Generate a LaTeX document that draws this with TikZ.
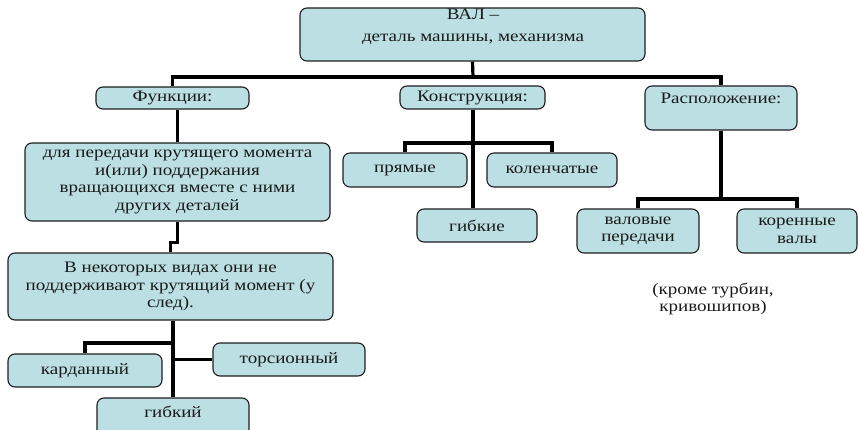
\documentclass[tikz,border=0pt]{standalone}
\usepackage{fontspec}
\setmainfont{Liberation Serif}[FakeStretch=1.19]
\definecolor{boxfill}{HTML}{BBDFE2}
\definecolor{boxline}{HTML}{1E1E1E}
\definecolor{txt}{HTML}{1A1A1A}
\tikzset{
  txtstyle/.style={text=txt, font=\fontsize{16}{17.5}\selectfont},
  box/.style={draw=boxline, line width=1.1pt, fill=boxfill, rounded corners=7pt,
    inner sep=0pt, align=center, txtstyle},
  conn/.style={draw=black, line width=3.2pt},
}
\newcommand{\bx}[6]{% name, x1, y1, x2, y2, text
  \node[box, minimum width=#4pt-#2pt, minimum height=#5pt-#3pt] (#1) at ({(#2+#4)/2},{(#3+#5)/2}) {#6};}
\begin{document}
\begin{tikzpicture}[x=1pt,y=-1pt]
\useasboundingbox (0,0) rectangle (858,430);
\coordinate (bus) at (473,77);
\coordinate (kbus) at (473,143);
\coordinate (rbus) at (721,199);
\coordinate (lj) at (173,343);
% boxes
\bx{val}{300}{8}{645}{61}{}
\bx{fun}{96}{87}{249}{109}{Функции:}
\bx{kon}{400}{86}{545}{109}{Конструкция:}
\bx{ras}{645}{86}{797}{130}{}
\bx{dlya}{25}{143}{330}{221}{для передачи крутящего момента\\и(или) поддержания\\вращающихся вместе с ними\\других деталей}
\bx{vnek}{8}{253}{333}{320}{В некоторых видах они не\\поддерживают крутящий момент (у\\след).}
\bx{kard}{8}{354}{162}{387}{карданный}
\bx{tors}{213}{343}{365}{376}{торсионный}
\bx{gib}{97}{398}{249}{440}{}
\bx{pry}{343}{153}{467}{187}{прямые}
\bx{kol}{487}{153}{617}{187}{коленчатые}
\bx{gibk}{417}{209}{537}{242}{гибкие}
\bx{valp}{577}{209}{699}{253}{валовые\\передачи}
\bx{kor}{737}{209}{857}{253}{коренные\\валы}
\node[txtstyle, align=center] (valt) at (473,27) {ВАЛ –\\[5pt]деталь машины, механизма};
\node[txtstyle, anchor=north] (rast) at ([yshift=-4pt]ras.north) {Расположение:};
\node[txtstyle] (gibt) at (173,412) {гибкий};
\node[txtstyle, align=center] (krome) at (713,299) {(кроме турбин,\\кривошипов)};
% connectors
\draw[conn] (val.south) -- (bus);
\draw[conn] (fun.north) |- (bus) -| (ras.north);
\draw[conn] (kon.south -| bus) -- (gibk.north -| bus);
\draw[conn] (pry.north) |- (kbus) -| (kol.north);
\draw[conn] (ras.south) -- (rbus);
\draw[conn] (valp.north) |- (rbus) -| (kor.north);
\draw[conn] (dlya.north) -- (dlya.north |- fun.south);
\draw[conn] (dlya.south) -- ++(0,21) -| (vnek.north);
\draw[conn] (vnek.south -| lj) -- (gib.north -| lj);
\draw[conn] (kard.north) |- (lj);
\draw[conn] (tors.west) -- (tors.west -| lj);
\end{tikzpicture}
\end{document}
